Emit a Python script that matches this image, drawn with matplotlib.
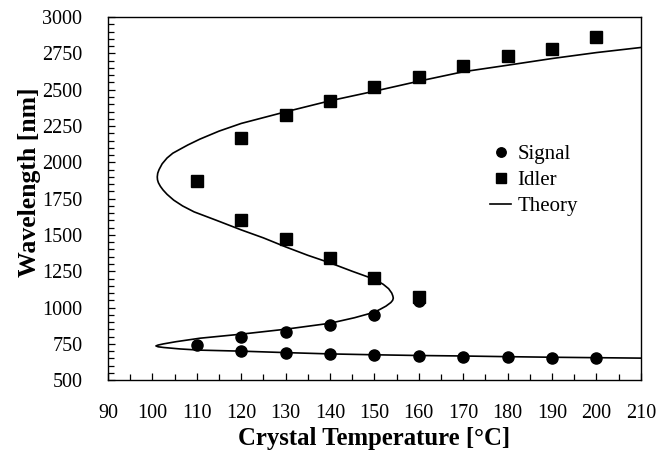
import numpy as np
import matplotlib
matplotlib.use('Agg')
import matplotlib.pyplot as plt
from matplotlib.ticker import MultipleLocator

plt.rcParams['font.family'] = ['Liberation Serif', 'DejaVu Serif']

# measured points
signal_T = [110, 120, 120, 130, 130, 140, 140, 150, 150, 160, 160, 170, 180, 190, 200]
signal_nm = [741, 796, 700, 830, 686, 879, 678, 948, 672, 1045, 666, 661, 659, 656, 652]

idler_T = [110, 120, 120, 130, 130, 140, 140, 150, 150, 160, 160, 170, 180, 190, 200]
idler_nm = [1870, 2169, 1600, 2325, 1471, 2421, 1340, 2516, 1202, 2589, 1075, 2665, 2731, 2784, 2860]

theory_nm = [2791, 2756, 2715, 2669, 2624, 2559, 2490, 2424, 2348, 2268, 2215, 2160,
             2120, 2090, 2063, 2030, 1990, 1950, 1925, 1900, 1880, 1860, 1835, 1810, 1780,
             1740, 1700, 1659, 1600, 1535, 1480, 1418, 1360, 1308, 1250, 1195, 1160, 1130,
             1100, 1080, 1065, 1050, 1035, 1010, 990, 968, 930, 892, 851, 817, 789, 765,
             750, 742, 736, 730, 725, 715, 707, 700, 690, 681, 675, 670, 667, 662, 658, 655, 652]
theory_T = [210, 200, 190, 180, 170, 160, 150, 140, 130, 120, 115, 110.7,
            108, 106.2, 104.6, 103.3, 102.2, 101.5, 101.2, 101.1, 101.15, 101.35, 101.8, 102.4, 103.3,
            104.8, 106.8, 109.4, 114.5, 120, 125, 130, 135, 140, 145, 150, 152, 153.2,
            153.9, 154.15, 154.25, 154.1, 153.7, 152.6, 151.4, 150, 145.5, 140, 130, 120, 110.7, 105.3,
            102.5, 101.3, 100.8, 101.3, 102.6, 106.3, 110.7,
            120, 130, 140, 150, 160, 169, 180, 190, 200, 210]

fig = plt.figure(figsize=(6.6, 4.51), dpi=100)
ax = fig.add_axes([0.1636, 0.157, 0.8074, 0.805])

ax.plot(signal_T, signal_nm, 'o', color='black', markersize=8, label='Signal', zorder=3)
ax.plot(idler_T, idler_nm, 's', color='black', markersize=9, label='Idler', zorder=3)
ax.plot(theory_T, theory_nm, '-', color='black', linewidth=1.2, label='Theory', zorder=2)

ax.set_xlim(90, 210)
ax.set_ylim(500, 3000)
ax.xaxis.set_major_locator(MultipleLocator(10))
ax.xaxis.set_minor_locator(MultipleLocator(5))
ax.yaxis.set_major_locator(MultipleLocator(250))
ax.yaxis.set_minor_locator(MultipleLocator(50))
ax.tick_params(which='both', direction='in', top=False, right=False,
               labelsize=14.5, width=0.9, color='black')
ax.tick_params(which='major', length=5)
ax.tick_params(which='minor', length=4.5)
ax.tick_params(axis='x', pad=17)
ax.tick_params(axis='y', pad=18.5)
for s in ax.spines.values():
    s.set_linewidth(1.0)

ax.set_xlabel('Crystal Temperature [°C]', fontsize=17.8, fontweight='bold', labelpad=3)
ax.set_ylabel('Wavelength [nm]', fontsize=18.5, fontweight='bold', labelpad=5)
ax.yaxis.set_label_coords(-0.125, 0.545)

leg = ax.legend(loc='upper left', bbox_to_anchor=(0.69, 0.69), frameon=False,
                fontsize=15, handlelength=1.0, handletextpad=0.3, labelspacing=0.32,
                borderpad=0.2, markerscale=0.85)

fig.savefig('out.png', dpi=100)
